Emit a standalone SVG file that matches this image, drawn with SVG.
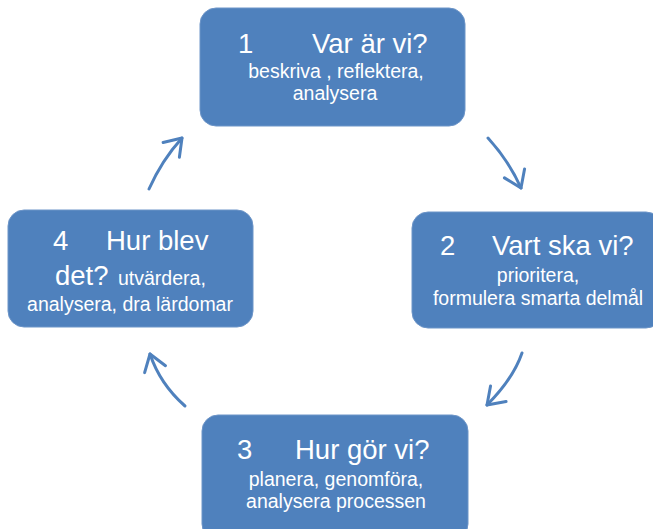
<svg xmlns="http://www.w3.org/2000/svg" width="653" height="529" viewBox="0 0 653 529">
<style>
.box{fill:#4F81BD;stroke:#6D95C8;stroke-width:1}
.t{font-family:"Liberation Sans",Arial,sans-serif;fill:#FFFFFF}
.big{font-size:27.5px}
.small{font-size:19.5px}
.mid{text-anchor:middle}
.arrow{fill:none;stroke:#4F81BD;stroke-width:3;stroke-linecap:round;marker-end:url(#head)}
</style>
<defs>
<marker id="head" markerUnits="userSpaceOnUse" markerWidth="30" markerHeight="30" refX="0" refY="0" orient="auto" overflow="visible">
<path d="M-16,-11 L0,0 L-16,11" fill="none" stroke="#4F81BD" stroke-width="3" stroke-linecap="round" stroke-linejoin="round"/>
</marker>
</defs>
<rect width="653" height="529" fill="#FFFFFF"/>
<g id="connectors">
<path class="arrow" d="M488,138 Q509,161 521,188"/>
<path class="arrow" d="M522,353 Q513,379 487,405"/>
<path class="arrow" d="M185,406 Q160,384 150,354"/>
<path class="arrow" d="M149,189 Q162,160 182,138"/>
</g>
<g id="node1">
<rect class="box" x="200" y="8" width="265" height="118" rx="16"/>
<text class="t big" y="53"><tspan x="238">1</tspan><tspan x="312">Var är vi?</tspan></text>
<text class="t small mid" x="336" y="78">beskriva , reflektera,</text>
<text class="t small mid" x="335" y="100">analysera</text>
</g>
<g id="node2">
<rect class="box" x="412" y="212" width="250" height="116" rx="16"/>
<text class="t big" y="255"><tspan x="440">2</tspan><tspan x="492">Vart ska vi?</tspan></text>
<text class="t small mid" x="538" y="282">prioritera,</text>
<text class="t small mid" x="538" y="305">formulera smarta delmål</text>
</g>
<g id="node3">
<rect class="box" x="202" y="415" width="266" height="125" rx="16"/>
<text class="t big" y="459"><tspan x="237">3</tspan><tspan x="295">Hur gör vi?</tspan></text>
<text class="t small mid" x="336" y="486">planera, genomföra,</text>
<text class="t small mid" x="336" y="508">analysera processen</text>
</g>
<g id="node4">
<rect class="box" x="8" y="210" width="245" height="117" rx="16"/>
<text class="t big" y="250"><tspan x="53">4</tspan><tspan x="106">Hur blev</tspan></text>
<text class="t" y="285"><tspan class="big" x="55">det?</tspan><tspan class="small" x="118">utvärdera,</tspan></text>
<text class="t small mid" x="130" y="311">analysera, dra lärdomar</text>
</g>
</svg>
